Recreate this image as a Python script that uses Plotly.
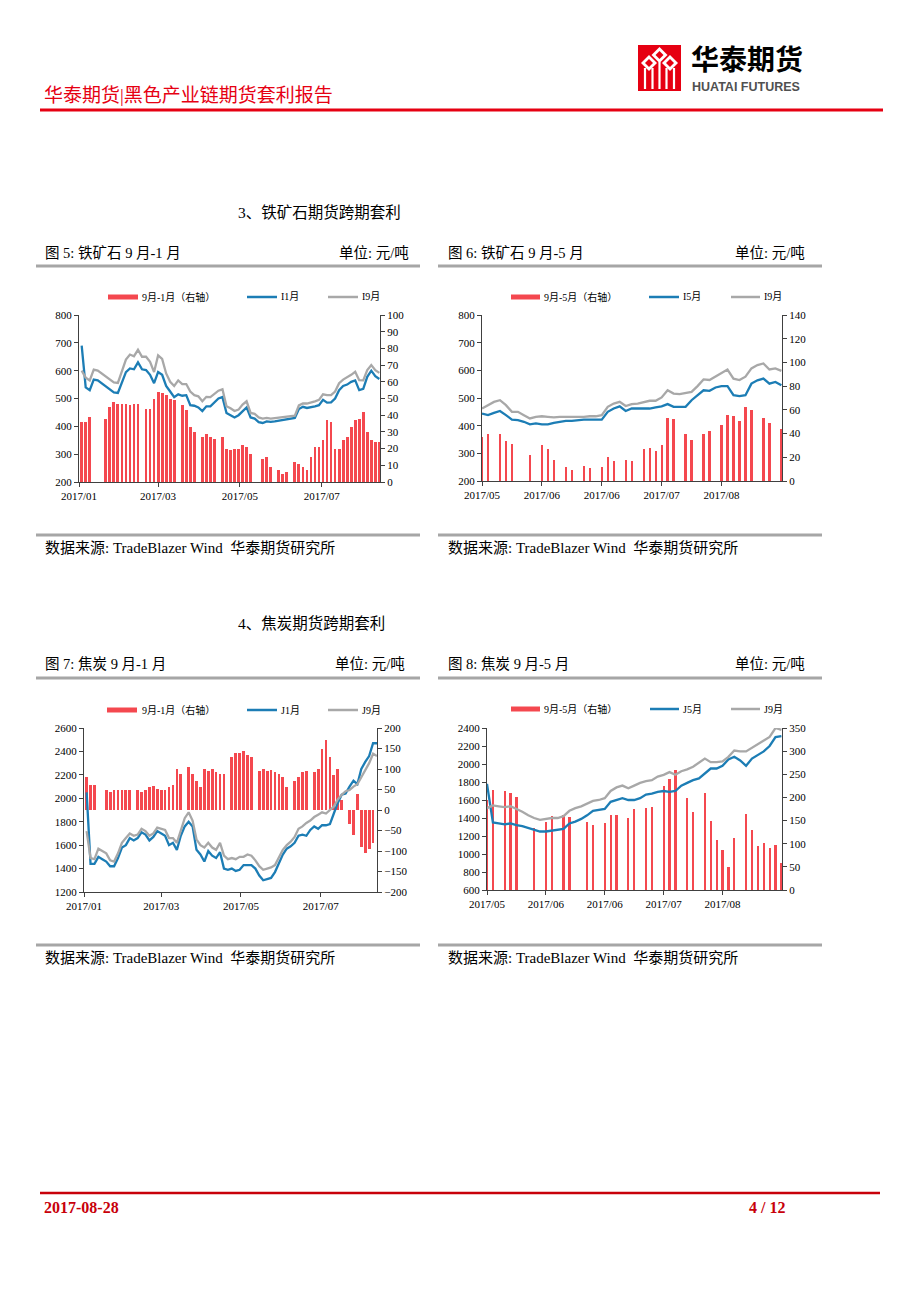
import plotly.graph_objects as go
import pandas as pd

W, H = 920, 1302

# ---------------- data ----------------
# Chart 5: iron ore 9-1
c1_dates = pd.date_range("2017-01-17", periods=75, freq="3D")
c1_i1 = [690, 540, 530, 568, 565, 555, 545, 535, 522, 520,
         560, 595, 608, 605, 630, 605, 602, 585, 555, 595,
         585, 545, 525, 505, 515, 510, 512, 476, 474, 468,
         455, 472, 472, 486, 500, 505, 448, 440, 432, 440,
         455, 468, 432, 428, 415, 412, 418, 416, 418, 420,
         422, 425, 428, 430, 462, 470, 466, 468, 472, 476,
         495, 485, 486, 500, 530, 545, 550, 560, 565, 530,
         535, 578, 600, 580, 570]
c1_i9 = [600, 575, 565, 604, 600, 590, 580, 570, 558, 556,
         600, 640, 658, 652, 675, 650, 650, 632, 595, 655,
         642, 590, 560, 545, 565, 552, 552, 525, 512, 508,
         490, 506, 505, 515, 528, 533, 472, 465, 455, 460,
         478, 490, 448, 445, 432, 428, 430, 428, 430, 432,
         432, 435, 436, 438, 475, 482, 482, 485, 490, 495,
         515, 512, 512, 525, 555, 568, 575, 585, 596, 566,
         565, 602, 620, 602, 592]
c1_spread = [36, 36, 39, None, None, None, 38, 45, 48, 47,
             47, 47, 46, 47, 47, None, 44, 44, 50, 54,
             53, 52, 50, 49, None, 46, 43, 33, 30, None,
             27, 29, 27, 26, None, 27, 20, 19, 20, 20,
             22, 21, 17, None, None, 14, 15, 9, None, 7,
             5, 6, None, 12, 11, 9, 7, 15, 21, 21,
             25, 37, 36, 20, 20, 25, 27, 33, 37, 38,
             42, 30, 25, 24, 24]

# Chart 6: iron ore 9-5
c2_dates = pd.date_range("2017-05-17", periods=51, freq="2D")
c2_i5 = [444, 438, 446, 453, 438, 422, 420, 414, 405, 408,
         405, 405, 410, 414, 417, 417, 420, 422, 422, 422,
         422, 450, 462, 470, 453, 462, 462, 462, 462, 466,
         470, 478, 468, 468, 468, 492, 510, 528, 526, 538,
         543, 543, 510, 507, 510, 552, 564, 570, 552, 558, 546]
c2_i9 = [462, 474, 486, 492, 474, 450, 450, 438, 426, 432,
         434, 432, 430, 432, 432, 430, 432, 432, 434, 434,
         438, 468, 480, 486, 471, 478, 480, 486, 490, 490,
         502, 528, 516, 514, 519, 522, 543, 567, 565, 577,
         591, 603, 570, 565, 577, 607, 619, 625, 603, 607, 598]
c2_spread = [37, 40, None, 40, 34, 31, None, None, 22, None,
             30, 27, 18, None, 12, 9, None, 13, 11, None,
             12, 20, 17, None, 18, 17, None, 27, 28, 25,
             30, 53, 52, None, 40, 35, None, 40, 42, None,
             47, 56, 55, 51, 62, 60, None, 53, 49, None, 44]

# Chart 7: coke 9-1
c3_dates = pd.date_range("2017-01-17", periods=75, freq="3D")
c3_j1 = [2050, 1440, 1440, 1500, 1480, 1460, 1420, 1420, 1490, 1580,
         1600, 1660, 1640, 1660, 1710, 1690, 1640, 1670, 1720, 1700,
         1680, 1600, 1620, 1560, 1680, 1760, 1800, 1760, 1560, 1520,
         1460, 1550, 1510, 1490, 1540, 1400, 1390, 1400, 1380, 1390,
         1430, 1430, 1430, 1400, 1340, 1300, 1310, 1320, 1370, 1450,
         1520, 1570, 1590, 1620, 1680, 1690, 1680, 1730, 1760, 1740,
         1770, 1770, 1780, 1870, 1960, 2030, 2040, 2100, 2150, 2120,
         2250, 2310, 2360, 2470, 2470]
c3_j9 = [1720, 1490, 1480, 1570, 1550, 1530, 1470, 1460, 1530, 1620,
         1660, 1700, 1680, 1690, 1740, 1720, 1680, 1700, 1750, 1740,
         1730, 1660, 1660, 1620, 1720, 1830, 1880, 1810, 1650, 1600,
         1580, 1620, 1580, 1560, 1620, 1510, 1480, 1490, 1480, 1500,
         1500, 1520, 1510, 1470, 1420, 1390, 1400, 1410, 1430, 1500,
         1560, 1600, 1630, 1670, 1740, 1760, 1790, 1810, 1840, 1860,
         1880, 1870, 1900, 1930, 1990, 2030, 2060, 2070, 2100, 2120,
         2180, 2240, 2300, 2380, 2360]
c3_spread = [80, 60, 60, None, None, 50, 44, 48, 50, 50,
             50, 48, None, 48, 45, 50, 55, 58, 52, 48,
             50, 55, 60, 100, 88, None, 105, 88, 70, 55,
             100, 96, 100, 92, 88, 88, None, 130, 140, 140,
             145, 135, 130, None, 95, 100, 96, 98, 92, 88,
             80, 55, None, 70, 80, 92, 96, None, 92, 100,
             150, 170, 130, 85, 100, 25, None, -35, -60, 40,
             -90, -105, -95, -80, None]

# Chart 8: coke 9-5
c4_dates = pd.date_range("2017-05-17", periods=51, freq="2D")
c4_j5 = [1780, 1350, 1340, 1330, 1340, 1320, 1310, 1290, 1270, 1250,
         1250, 1260, 1270, 1280, 1340, 1360, 1390, 1430, 1480, 1490,
         1500, 1580, 1600, 1620, 1600, 1600, 1620, 1660, 1670, 1690,
         1700, 1690, 1700, 1760, 1790, 1820, 1840, 1900, 1950, 1950,
         1980, 2050, 2080, 2040, 1980, 2060, 2100, 2140, 2200, 2300, 2310]
c4_j9 = [1510, 1540, 1530, 1520, 1530, 1500, 1470, 1430, 1400, 1380,
         1390, 1400, 1400, 1420, 1480, 1510, 1530, 1560, 1590, 1600,
         1620, 1700, 1740, 1760, 1730, 1760, 1790, 1810, 1820, 1860,
         1880, 1910, 1880, 1920, 1940, 1970, 2020, 2060, 2020, 2020,
         2030, 2080, 2150, 2140, 2140, 2180, 2220, 2260, 2300, 2400, 2380]
c4_spread = [195, 215, None, 213, 210, 202, None, None, 135, None,
             148, 160, None, 162, 158, None, None, 148, 140, None,
             144, 162, 162, None, 155, 175, None, 178, 180, None,
             225, 240, 260, None, 198, 168, None, 210, 150, 108,
             87, 50, 112, None, 165, 130, 95, 101, 90, 97, 58]

# tick positions / labels
long_tickvals = ["2017-01-15", "2017-03-15", "2017-05-15", "2017-07-15"]
long_ticktext = ["2017/01", "2017/03", "2017/05", "2017/07"]
short_tickvals = ["2017-05-17", "2017-06-06", "2017-06-26", "2017-07-16", "2017-08-05"]
short_ticktext = ["2017/05", "2017/06", "2017/06", "2017/07", "2017/08"]

# ---------------- styles ----------------
BAR = "#F4484F"
BLUE = "#1C7DB5"
GRAY = "#A8A8A8"
RED = "#E60012"
DARKRED = "#C8000A"
AXIS = "#404040"
SERIF_CJK = "Liberation Serif, Noto Sans CJK SC"
TICKFONT = dict(family="Liberation Serif", size=11, color="#000")
DAY = 86400000


def X(px):
    return px / W


def Y(py):
    return 1 - py / H


fig = go.Figure()
shapes = []
annotations = []


def hline(x0, x1, y, color, width):
    shapes.append(dict(type="line", xref="paper", yref="paper",
                       x0=X(x0), x1=X(x1), y0=Y(y), y1=Y(y),
                       line=dict(color=color, width=width)))


def rect(x0, y0, x1, y1, color):
    shapes.append(dict(type="rect", xref="paper", yref="paper",
                       x0=X(x0), x1=X(x1), y0=Y(y0), y1=Y(y1),
                       fillcolor=color, line=dict(width=0)))


def poly(points, color):
    path = "M " + " L ".join(f"{X(a):.5f},{Y(b):.5f}" for a, b in points) + " Z"
    shapes.append(dict(type="path", xref="paper", yref="paper", path=path,
                       fillcolor=color, line=dict(width=0)))


def text(x, y, s, size, color="#000", anchor="left", family=SERIF_CJK):
    annotations.append(dict(xref="paper", yref="paper", x=X(x), y=Y(y), text=s,
                            showarrow=False, xanchor=anchor, yanchor="middle",
                            borderpad=0,
                            font=dict(family=family, size=size, color=color)))


def add_chart(i, xdom, ydom, dates, spread, l_a, l_b, xrange, tickvals, ticktext,
              lrange, ldtick, rrange, rdtick, barwidth):
    xref = "x" if i == 1 else f"x{i}"
    xkey = "xaxis" if i == 1 else f"xaxis{i}"
    b = 2 * i - 1
    l = 2 * i
    byref = "y" if b == 1 else f"y{b}"
    bykey = "yaxis" if b == 1 else f"yaxis{b}"
    lyref = f"y{l}"
    lykey = f"yaxis{l}"
    fig.add_trace(go.Bar(x=dates, y=spread, xaxis=xref, yaxis=byref,
                         marker=dict(color=BAR, line=dict(width=0)),
                         width=barwidth, showlegend=False, hoverinfo="skip"))
    fig.add_trace(go.Scatter(x=dates, y=l_a, xaxis=xref, yaxis=lyref, mode="lines",
                             line=dict(color=BLUE, width=2.3), showlegend=False,
                             hoverinfo="skip"))
    fig.add_trace(go.Scatter(x=dates, y=l_b, xaxis=xref, yaxis=lyref, mode="lines",
                             line=dict(color=GRAY, width=2.3), showlegend=False,
                             hoverinfo="skip"))
    common = dict(showline=True, linecolor=AXIS, linewidth=1, ticks="outside",
                  ticklen=4, tickcolor=AXIS, tickfont=TICKFONT, showgrid=False,
                  zeroline=False, fixedrange=True, automargin=False)
    fig.update_layout(**{
        xkey: dict(domain=[X(xdom[0]), X(xdom[1])], anchor=byref, type="date",
                   range=xrange, tickvals=tickvals, ticktext=ticktext, **common),
        bykey: dict(domain=[Y(ydom[1]), Y(ydom[0])], anchor=xref, side="right",
                    range=rrange, dtick=rdtick, tick0=rrange[0], **common),
        lykey: dict(overlaying=byref, anchor=xref, side="left",
                    range=lrange, dtick=ldtick, tick0=lrange[0], **common),
    })


add_chart(1, (79, 380), (315, 482), c1_dates, c1_spread, c1_i1, c1_i9,
          ["2017-01-15", "2017-08-27 12:00"], long_tickvals, long_ticktext,
          [200, 800], 100, [0, 100], 10, 2.1 * DAY)
add_chart(2, (482, 782), (315, 481), c2_dates, c2_spread, c2_i5, c2_i9,
          ["2017-05-17", "2017-08-25 05:00"], short_tickvals, short_ticktext,
          [200, 800], 100, [0, 140], 20, 0.75 * DAY)
add_chart(3, (84, 377), (728, 892), c3_dates, c3_spread, c3_j1, c3_j9,
          ["2017-01-15", "2017-08-27"], long_tickvals, long_ticktext,
          [1200, 2600], 200, [-200, 200], 50, 2.1 * DAY)
add_chart(4, (487, 782), (728, 890), c4_dates, c4_spread, c4_j5, c4_j9,
          ["2017-05-17", "2017-08-25 05:00"], short_tickvals, short_ticktext,
          [600, 2400], 200, [0, 350], 50, 0.75 * DAY)

# ---------------- legends (drawn) ----------------
def legend(y, xs, labels):
    (r0, r1, rt), (b0, b1, bt), (g0, g1, gt) = xs
    rect(r0, y - 2.5, r1, y + 2.5, BAR)
    text(rt, y, labels[0], 10)
    hline(b0, b1, y, BLUE, 2.5)
    text(bt, y, labels[1], 10)
    hline(g0, g1, y, GRAY, 2.5)
    text(gt, y, labels[2], 10)


legend(297, [(108, 138, 141), (247, 277, 280), (328, 358, 361)],
       ["9月-1月（右轴）", "I1月", "I9月"])
legend(297, [(511, 540, 543), (649, 679, 682), (731, 760, 763)],
       ["9月-5月（右轴）", "I5月", "I9月"])
legend(710, [(107, 137, 141), (247, 277, 280), (328, 358, 361)],
       ["9月-1月（右轴）", "J1月", "J9月"])
legend(709, [(511, 540, 543), (650, 679, 682), (731, 760, 763)],
       ["9月-5月（右轴）", "J5月", "J9月"])

# ---------------- page header ----------------
text(43, 95, "华泰期货|黑色产业链期货套利报告", 19, color=RED)
hline(40, 883, 110, RED, 3)
# logo
rect(638, 45, 681, 91, RED)
poly([(659.5, 47), (667.5, 55), (659.5, 63), (651.5, 55)], "#FFFFFF")
poly([(649, 55), (657, 63), (649, 71), (641, 63)], "#FFFFFF")
poly([(670, 55), (678, 63), (670, 71), (662, 63)], "#FFFFFF")
poly([(659.5, 51), (663.5, 55), (659.5, 59), (655.5, 55)], RED)
poly([(649, 59), (653, 63), (649, 67), (645, 63)], RED)
poly([(670, 59), (674, 63), (670, 67), (666, 63)], RED)
for sx in (645, 652.5, 659.5, 666.5, 674):
    rect(sx - 1.1, 68 if sx != 659.5 else 62, sx + 1.1, 89, "#FFFFFF")
text(690, 58, "<b>华泰期货</b>", 28, family="Noto Sans CJK SC")
text(691, 87, "<b>HUATAI FUTURES</b>", 12.5, color="#505050", family="Liberation Sans")

# ---------------- section 3 ----------------
text(237, 212, "3、铁矿石期货跨期套利", 15.5)
text(44, 253, "图 5: 铁矿石 9 月-1 月", 14.5)
text(410, 253, "单位: 元/吨", 14.5, anchor="right")
text(447, 253, "图 6: 铁矿石 9 月-5 月", 14.5)
text(806, 253, "单位: 元/吨", 14.5, anchor="right")
hline(36, 420, 266, "#A6A6A6", 3)
hline(438, 822, 266, "#A6A6A6", 3)
hline(36, 420, 535, "#A6A6A6", 3)
hline(438, 822, 535, "#A6A6A6", 3)
text(44, 548, "数据来源: TradeBlazer Wind  华泰期货研究所", 15)
text(447, 548, "数据来源: TradeBlazer Wind  华泰期货研究所", 15)

# ---------------- section 4 ----------------
text(237, 624, "4、焦炭期货跨期套利", 15.5)
text(44, 664, "图 7: 焦炭 9 月-1 月", 14.5)
text(406, 664, "单位: 元/吨", 14.5, anchor="right")
text(447, 664, "图 8: 焦炭 9 月-5 月", 14.5)
text(806, 664, "单位: 元/吨", 14.5, anchor="right")
hline(36, 420, 678, "#A6A6A6", 3)
hline(438, 822, 678, "#A6A6A6", 3)
hline(36, 420, 945, "#A6A6A6", 3)
hline(438, 822, 945, "#A6A6A6", 3)
text(44, 958, "数据来源: TradeBlazer Wind  华泰期货研究所", 15)
text(447, 958, "数据来源: TradeBlazer Wind  华泰期货研究所", 15)

# ---------------- footer ----------------
hline(40, 880, 1193, DARKRED, 2.5)
text(43, 1207, "<b>2017-08-28</b>", 16, color=DARKRED, family="Liberation Serif")
text(786, 1207, "<b>4 / 12</b>", 16, color=DARKRED, anchor="right", family="Liberation Serif")

fig.update_layout(
    width=W, height=H, autosize=False,
    margin=dict(l=0, r=0, t=0, b=0, pad=0, autoexpand=False),
    paper_bgcolor="#FFFFFF", plot_bgcolor="rgba(0,0,0,0)",
    showlegend=False, bargap=0,
    shapes=shapes, annotations=annotations,
    font=dict(family=SERIF_CJK, color="#000"),
)

fig.write_html("out.html", config={"displayModeBar": False, "staticPlot": True},
               post_script="document.body.style.margin='0px';document.body.style.overflow='hidden';")
